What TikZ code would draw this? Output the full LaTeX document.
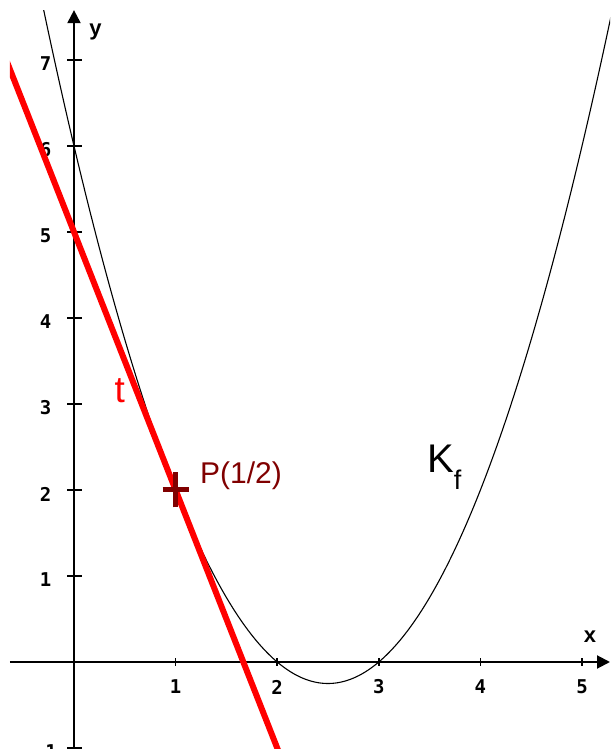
\documentclass[tikz,border=0pt]{standalone}
\usepackage{fontspec}
\setmainfont{Liberation Sans}
\newfontfamily\tickfont{DejaVu Sans Mono}
\usetikzlibrary{arrows.meta}
\definecolor{darkred}{HTML}{800000}
\begin{document}
\begin{tikzpicture}[x=101.6pt,y=86pt,
  axis/.style={line width=2pt,black},
  tickmark/.style={line width=1.6pt,black},
  tickl/.style={font=\tickfont\bfseries\fontsize{19}{19}\selectfont,inner sep=0pt},
  axl/.style={font=\bfseries\fontsize{22}{22}\selectfont,inner sep=0pt},
  curve/.style={line width=1.1pt,black},
  tangent/.style={line width=6pt,red},
  pmark/.style={line width=5pt,darkred}]
\useasboundingbox (-0.72835,-1.01163) rectangle (5.27559,7.69767);
\coordinate (xs) at (-0.63,0);
\coordinate (xe) at (5.2756,0);
\coordinate (ys) at (0,-1.0116);
\coordinate (ye) at (0,7.58);
% curve
\begin{scope}
\clip (-0.63,-1.0116) rectangle (5.2756,7.58);
\draw[curve] plot[domain=-0.4:5.4,samples=200,smooth] (\x,{\x*\x-5*\x+6});
\end{scope}
% axes
\draw[axis,-{Triangle[length=13pt,width=13pt]}] (xs) -- (xe);
\draw[axis,-{Triangle[length=13pt,width=13pt]}] (ys) -- (ye);
\foreach \i in {1,...,5}{
  \draw[tickmark] ([yshift=-4pt]\i,0) -- ([yshift=4pt]\i,0);
  \node[tickl] (lx\i) at ([yshift=-25pt]\i,0) {\i};
}
\foreach \j in {-1,1,2,3,4,5,6,7}{
  \draw[tickmark] ([xshift=-7pt]0,\j) -- ([xshift=8pt]0,\j);
  \node[tickl] (ly\j) at ([xshift=-28.5pt,yshift=-4pt]0,\j) {\j};
}
\node[axl] (xl) at (5.079,0.2965) {x};
\node[axl] (yl) at (0.2116,7.32) {y};
% tangent
\begin{scope}
\clip (-0.63,-1.0116) rectangle (5.2756,7.58);
\draw[tangent] (-0.75,7.25) -- (2.1,-1.3);
\end{scope}
% point P
\coordinate (P) at (1,2);
\draw[pmark] ([yshift=-17.5pt]P) -- ([yshift=17.5pt]P);
\draw[pmark] ([xshift=-13pt]P) -- ([xshift=13pt]P);
\node[anchor=base west,text=darkred,font=\fontsize{30}{30}\selectfont,inner sep=0pt] (plab) at (1.240,2.070) {P(1/2)};
\node[anchor=base west,text=red,font=\fontsize{37}{37}\selectfont,inner sep=0pt] (tlab) at (0.3986,3.012) {t};
\node[anchor=base west,font=\fontsize{40}{40}\selectfont,inner sep=0pt] (kf) at (3.474,2.198) {K\raisebox{-17pt}{\fontsize{27}{27}\selectfont f}};
\end{tikzpicture}
\end{document}
